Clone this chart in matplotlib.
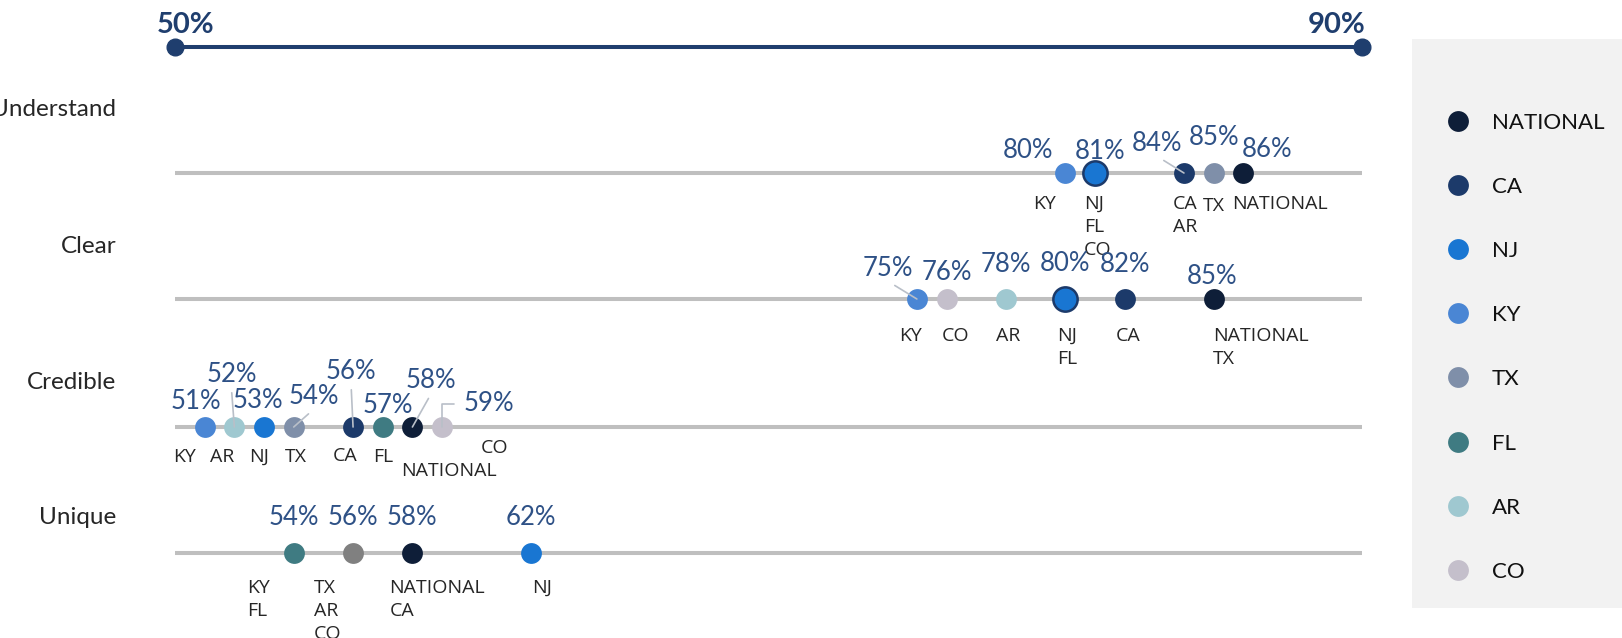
import matplotlib.pyplot as plt

# ---- data ----
states = ["NATIONAL", "CA", "NJ", "KY", "TX", "FL", "AR", "CO"]
state_colors = ["#0e1e38", "#1c3a6a", "#1976d2", "#4a86d4",
                "#7f8fa9", "#3f7b82", "#9fc8d0", "#c4bfcb"]

questions = ["Understand", "Clear", "Credible", "Unique"]
understand = [86, 84, 81, 80, 85, 81, 84, 81]
clear = [85, 82, 80, 75, 85, 80, 78, 76]
credible = [58, 56, 53, 51, 54, 57, 52, 59]
unique = [58, 58, 62, 54, 56, 54, 56, 56]
scores = [understand, clear, credible, unique]

scale_lo, scale_hi = 50, 90

# ---- layout (pixels) ----
FIG_W, FIG_H, DPI = 1622, 638, 100
X_LO, X_HI = 175, 1362          # pixel position of 50% and 90%
PX_PER_PT = (X_HI - X_LO) / (scale_hi - scale_lo)
ROW_LINE_Y = [173, 299, 427, 553]
ROW_LABEL_Y = [107, 244, 380, 515]
ROW_LABEL_RIGHT = 116

NAVY = "#1f3e6e"
PCT_COLOR = "#2e5186"
TEXT_COLOR = "#262626"
PCT_FS = 18.5
NAME_FS = 14
ROW_FS = 17.5
LEG_FS = 16

# percent label: (dx, dy up) of text centre from the dot, leader type
pct_layout = {
    "Understand": {80: (-37, 24, None), 81: (5, 23, None), 84: (-27, 31, "line"),
                   85: (0, 37, None), 86: (24, 25, None)},
    "Clear": {75: (-29, 32, "line"), 76: (0, 28, None), 78: (0, 36, None),
              80: (0, 37, None), 82: (0, 36, None), 85: (-2, 24, None)},
    "Credible": {51: (-9, 27, None), 52: (-3, 54, "line"), 53: (-6, 28, None),
                 54: (20, 32, "line"), 56: (-2, 57, "line"), 57: (5, 23, None),
                 58: (19, 48, "line"), 59: (47, 25, "elbow")},
    "Unique": {54: (0, 37, None), 56: (0, 37, None), 58: (0, 37, None), 62: (0, 37, None)},
}
# state names: (dx of left edge, dy down of first line centre)
name_layout = {
    "Understand": {80: (-32, 30), 81: (-11, 30), 84: (-11, 30), 85: (-11, 32), 86: (-11, 30)},
    "Clear": {75: (-18, 36), 76: (-5, 36), 78: (-10, 36), 80: (-8, 36), 82: (-9, 36), 85: (-1, 36)},
    "Credible": {51: (-32, 29), 52: (-24, 29), 53: (-15, 29), 54: (-9, 29), 56: (-20, 28),
                 57: (-10, 29), 58: (-11, 43), 59: (39, 20)},
    "Unique": {54: (-47, 34), 56: (-39, 34), 58: (-23, 34), 62: (1, 34)},
}
dot_override = {("Unique", 54): "#3f7b82", ("Unique", 56): "#808080"}
outlined = {("Understand", 81), ("Clear", 80)}


def px_to_val(px):
    return scale_lo + (px - X_LO) / PX_PER_PT


def cap(fs):
    return 0.72 * fs * DPI / 72


plt.rcParams["font.family"] = ["Lato", "DejaVu Sans"]

fig = plt.figure(figsize=(FIG_W / DPI, FIG_H / DPI), dpi=DPI)
ax = fig.add_axes([0, 0, 1, 1])
ax.set_xlim(px_to_val(0), px_to_val(FIG_W))
ax.set_ylim(FIG_H, 0)
ax.axis("off")

# top scale bar
ax.plot([scale_lo, scale_hi], [47, 47], color=NAVY, lw=2.9, marker="o", ms=12, zorder=3)
ax.annotate(f"{scale_lo}%", xy=(scale_lo, 47), xytext=(-18, 14), textcoords="offset pixels",
            ha="left", va="baseline", fontsize=21, fontweight="bold", color=NAVY)
ax.annotate(f"{scale_hi}%", xy=(scale_hi, 47), xytext=(3, 14), textcoords="offset pixels",
            ha="right", va="baseline", fontsize=21, fontweight="bold", color=NAVY)

for r, (q, vals) in enumerate(zip(questions, scores)):
    y = ROW_LINE_Y[r]
    ax.text(px_to_val(ROW_LABEL_RIGHT), ROW_LABEL_Y[r] + cap(ROW_FS) / 2, q,
            ha="right", va="baseline", fontsize=ROW_FS, color=TEXT_COLOR)
    ax.plot([scale_lo, scale_hi], [y, y], color="#bfbfbf", lw=2.9,
            solid_capstyle="butt", zorder=1)

    groups = {}
    for s, v in zip(states, vals):
        groups.setdefault(v, []).append(s)

    for v, members in groups.items():
        color = dot_override.get((q, v), state_colors[states.index(members[0])])
        if (q, v) in outlined:
            ax.plot([v], [y], "o", ms=17.5, color=color, mec="#1c3a6a", mew=1.8, zorder=4)
        else:
            ax.plot([v], [y], "o", ms=15, color=color, mec="none", zorder=4)

        dx, dy, leader = pct_layout[q][v]
        arrow = None
        if leader == "line":
            arrow = dict(arrowstyle="-", color="#b9bfc8", lw=1.2, shrinkA=2, shrinkB=0,
                         relpos=(0.5, 0))
        elif leader == "elbow":
            arrow = dict(arrowstyle="-", color="#b9bfc8", lw=1.2, shrinkA=5, shrinkB=0,
                         relpos=(0, 0.5), connectionstyle="angle,angleA=0,angleB=90,rad=0")
        ax.annotate(f"{v}%", xy=(v, y), xytext=(dx, dy - cap(PCT_FS) / 2),
                    textcoords="offset pixels", ha="center", va="baseline",
                    fontsize=PCT_FS, color=PCT_COLOR, arrowprops=arrow, zorder=5)

        ndx, ndy = name_layout[q][v]
        ax.annotate("\n".join(members), xy=(v, y), xytext=(ndx, -(ndy - cap(NAME_FS) / 2 - 1)),
                    textcoords="offset pixels", ha="left", va="top",
                    fontsize=NAME_FS, color=TEXT_COLOR, linespacing=1.35,
                    family=["Open Sans", "DejaVu Sans"])

# legend panel
LEG_LEFT, LEG_TOP, LEG_BOTTOM = 1412, 39, 608
leg = fig.add_axes([LEG_LEFT / FIG_W, 1 - LEG_BOTTOM / FIG_H,
                    (FIG_W - LEG_LEFT) / FIG_W, (LEG_BOTTOM - LEG_TOP) / FIG_H])
leg.set_facecolor("#f2f2f2")
leg.set_xlim(0, FIG_W - LEG_LEFT)
leg.set_ylim(LEG_BOTTOM - LEG_TOP, 0)
leg.set_xticks([])
leg.set_yticks([])
for sp in leg.spines.values():
    sp.set_visible(False)
for i, (s, c) in enumerate(zip(states, state_colors)):
    ly = 82 + i * 64.1
    leg.plot([46], [ly], "o", ms=15, color=c, mec="none")
    leg.text(80, ly + cap(LEG_FS) / 2, s, ha="left", va="baseline",
             fontsize=LEG_FS, color="#111111")

fig.savefig("out.png", dpi=DPI)
